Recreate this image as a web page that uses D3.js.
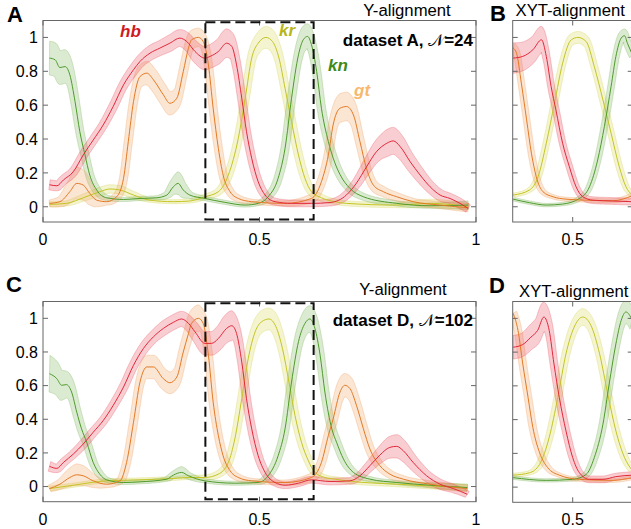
<!DOCTYPE html>
<html><head><meta charset="utf-8">
<script src="https://cdn.jsdelivr.net/npm/d3@7"></script>
<style>body{margin:0;background:#fff;} svg{display:block;} text{font-family:"Liberation Sans",Arial,sans-serif;}</style>
</head><body>
<svg id="chart" width="631" height="529"></svg>
<script>
// ---------- data: [x, mean, vertical half-width of error band] ----------
const A_hb = [[0.015,0.13,0.03],[0.032,0.124,0.03],[0.047,0.158,0.03],[0.07,0.207,0.03],[0.093,0.306,0.03],[0.116,0.394,0.03],[0.139,0.483,0.03],[0.162,0.592,0.035],[0.186,0.72,0.035],[0.209,0.809,0.04],[0.224,0.858,0.04],[0.247,0.907,0.045],[0.27,0.937,0.045],[0.293,0.966,0.05],[0.316,0.996,0.05],[0.332,0.976,0.055],[0.351,0.917,0.065],[0.374,0.878,0.07],[0.386,0.888,0.07],[0.405,0.917,0.075],[0.424,0.966,0.085],[0.436,0.947,0.08],[0.447,0.838,0.06],[0.459,0.641,0.04],[0.47,0.444,0.035],[0.482,0.286,0.03],[0.497,0.148,0.03],[0.513,0.069,0.025],[0.536,0.03,0.02],[0.574,0.02,0.02],[0.62,0.02,0.02],[0.663,0.025,0.02],[0.701,0.07,0.025],[0.724,0.14,0.035],[0.747,0.235,0.05],[0.77,0.325,0.065],[0.794,0.375,0.08],[0.809,0.389,0.08],[0.825,0.355,0.075],[0.848,0.266,0.06],[0.871,0.187,0.05],[0.894,0.118,0.04],[0.917,0.069,0.035],[0.94,0.049,0.03],[0.963,0.02,0.03],[0.982,-0.01,0.025]];
const A_gt = [[0.015,0.02,0.02],[0.039,0.03,0.03],[0.062,0.089,0.07],[0.078,0.138,0.095],[0.093,0.128,0.09],[0.108,0.079,0.07],[0.124,0.039,0.04],[0.147,0.03,0.02],[0.17,0.059,0.025],[0.186,0.168,0.03],[0.197,0.385,0.04],[0.209,0.621,0.05],[0.224,0.769,0.065],[0.24,0.789,0.07],[0.255,0.75,0.07],[0.278,0.661,0.07],[0.293,0.611,0.07],[0.309,0.641,0.065],[0.324,0.799,0.06],[0.336,0.937,0.055],[0.343,0.986,0.055],[0.359,1.0,0.055],[0.37,0.976,0.05],[0.382,0.838,0.04],[0.393,0.582,0.035],[0.405,0.345,0.03],[0.416,0.187,0.03],[0.432,0.089,0.025],[0.451,0.049,0.02],[0.482,0.03,0.015],[0.559,0.02,0.015],[0.62,0.049,0.025],[0.643,0.148,0.04],[0.659,0.306,0.055],[0.67,0.483,0.07],[0.686,0.582,0.085],[0.701,0.592,0.085],[0.717,0.542,0.08],[0.732,0.385,0.06],[0.747,0.227,0.045],[0.763,0.128,0.035],[0.786,0.089,0.03],[0.817,0.059,0.025],[0.855,0.03,0.02],[0.917,0.01,0.02],[0.982,-0.006,0.025]];
const A_kn = [[0.015,0.878,0.1],[0.028,0.868,0.1],[0.039,0.822,0.1],[0.051,0.828,0.1],[0.062,0.779,0.09],[0.074,0.621,0.06],[0.085,0.444,0.04],[0.097,0.306,0.035],[0.108,0.187,0.03],[0.124,0.099,0.025],[0.147,0.053,0.015],[0.186,0.043,0.012],[0.224,0.049,0.012],[0.262,0.053,0.012],[0.286,0.069,0.02],[0.301,0.118,0.05],[0.312,0.138,0.07],[0.324,0.099,0.05],[0.339,0.069,0.02],[0.374,0.049,0.012],[0.42,0.026,0.012],[0.467,0.01,0.012],[0.497,0.02,0.012],[0.52,0.059,0.02],[0.543,0.168,0.03],[0.559,0.345,0.04],[0.574,0.641,0.05],[0.59,0.897,0.065],[0.601,0.986,0.075],[0.611,1.006,0.075],[0.62,0.957,0.07],[0.632,0.799,0.06],[0.643,0.582,0.05],[0.659,0.385,0.04],[0.674,0.26,0.035],[0.686,0.19,0.03],[0.709,0.108,0.025],[0.74,0.059,0.02],[0.817,0.02,0.015],[0.894,0.006,0.015],[0.982,0.01,0.025]];
const A_kr = [[0.015,0.014,0.015],[0.054,0.02,0.015],[0.093,0.053,0.02],[0.131,0.089,0.025],[0.155,0.105,0.025],[0.178,0.099,0.025],[0.209,0.069,0.02],[0.247,0.039,0.012],[0.301,0.03,0.012],[0.339,0.034,0.012],[0.374,0.059,0.015],[0.405,0.089,0.02],[0.428,0.187,0.03],[0.451,0.404,0.035],[0.467,0.641,0.045],[0.482,0.878,0.055],[0.497,0.966,0.06],[0.515,1.0,0.065],[0.53,0.976,0.065],[0.545,0.878,0.06],[0.559,0.7,0.05],[0.574,0.503,0.045],[0.59,0.306,0.04],[0.605,0.168,0.03],[0.62,0.089,0.025],[0.643,0.053,0.02],[0.674,0.03,0.015],[0.701,0.02,0.015],[0.817,0.01,0.015],[0.894,0.02,0.025],[0.982,0.0,0.02]];

const C_hb = [[0.015,0.12,0.03],[0.032,0.108,0.025],[0.047,0.143,0.025],[0.07,0.193,0.025],[0.093,0.253,0.03],[0.116,0.323,0.03],[0.139,0.392,0.03],[0.162,0.482,0.03],[0.186,0.592,0.035],[0.209,0.721,0.035],[0.232,0.821,0.04],[0.255,0.89,0.04],[0.278,0.94,0.045],[0.301,0.976,0.045],[0.32,0.996,0.045],[0.336,0.97,0.05],[0.351,0.92,0.06],[0.374,0.851,0.07],[0.389,0.851,0.07],[0.405,0.88,0.075],[0.424,0.94,0.085],[0.436,0.956,0.09],[0.447,0.91,0.07],[0.459,0.741,0.045],[0.47,0.522,0.035],[0.482,0.343,0.03],[0.497,0.183,0.03],[0.513,0.084,0.025],[0.536,0.024,0.02],[0.559,0.008,0.02],[0.59,0.02,0.02],[0.62,0.04,0.02],[0.663,0.03,0.02],[0.709,0.034,0.02],[0.732,0.064,0.025],[0.755,0.124,0.035],[0.778,0.187,0.05],[0.801,0.233,0.065],[0.817,0.239,0.07],[0.832,0.213,0.065],[0.855,0.143,0.05],[0.886,0.064,0.035],[0.917,0.014,0.03],[0.948,-0.012,0.025],[0.98,-0.046,0.02]];
const C_gt = [[0.015,-0.012,0.02],[0.039,0.014,0.03],[0.062,0.054,0.055],[0.078,0.07,0.065],[0.093,0.064,0.06],[0.116,0.034,0.04],[0.147,0.014,0.02],[0.178,0.034,0.02],[0.193,0.143,0.03],[0.209,0.382,0.04],[0.224,0.621,0.055],[0.24,0.711,0.07],[0.255,0.711,0.07],[0.278,0.641,0.065],[0.293,0.617,0.065],[0.309,0.651,0.065],[0.324,0.8,0.065],[0.336,0.91,0.07],[0.343,0.97,0.075],[0.359,1.0,0.08],[0.37,0.97,0.065],[0.382,0.781,0.045],[0.393,0.502,0.035],[0.405,0.303,0.03],[0.416,0.183,0.03],[0.432,0.094,0.025],[0.451,0.054,0.02],[0.482,0.034,0.015],[0.559,0.024,0.015],[0.62,0.054,0.025],[0.643,0.143,0.035],[0.659,0.303,0.05],[0.67,0.402,0.06],[0.686,0.562,0.07],[0.697,0.602,0.07],[0.709,0.582,0.07],[0.724,0.482,0.06],[0.74,0.343,0.05],[0.755,0.223,0.04],[0.778,0.124,0.03],[0.801,0.074,0.025],[0.832,0.044,0.02],[0.894,0.014,0.02],[0.98,-0.012,0.02]];
const C_kn = [[0.015,0.671,0.11],[0.032,0.641,0.1],[0.043,0.602,0.09],[0.054,0.606,0.08],[0.066,0.562,0.07],[0.078,0.442,0.05],[0.089,0.343,0.04],[0.101,0.263,0.035],[0.116,0.143,0.025],[0.131,0.074,0.02],[0.147,0.04,0.015],[0.186,0.024,0.012],[0.224,0.028,0.012],[0.286,0.044,0.012],[0.301,0.068,0.02],[0.32,0.084,0.035],[0.336,0.064,0.02],[0.374,0.034,0.012],[0.443,0.02,0.012],[0.497,0.024,0.012],[0.52,0.064,0.02],[0.543,0.183,0.03],[0.559,0.343,0.04],[0.574,0.621,0.05],[0.59,0.861,0.065],[0.605,0.97,0.075],[0.616,0.996,0.08],[0.628,0.94,0.075],[0.64,0.781,0.06],[0.651,0.562,0.05],[0.667,0.343,0.04],[0.678,0.263,0.035],[0.694,0.163,0.03],[0.717,0.084,0.02],[0.755,0.044,0.015],[0.817,0.024,0.012],[0.894,0.008,0.015],[0.98,-0.006,0.02]];
const C_kr = [[0.015,-0.012,0.015],[0.07,0.008,0.012],[0.147,0.034,0.012],[0.224,0.04,0.012],[0.301,0.048,0.012],[0.339,0.054,0.012],[0.374,0.054,0.015],[0.405,0.074,0.02],[0.428,0.143,0.025],[0.443,0.283,0.03],[0.459,0.522,0.04],[0.474,0.761,0.05],[0.49,0.92,0.06],[0.505,0.98,0.065],[0.522,0.996,0.065],[0.538,0.95,0.065],[0.553,0.821,0.055],[0.568,0.621,0.045],[0.582,0.422,0.04],[0.597,0.263,0.03],[0.613,0.153,0.025],[0.628,0.084,0.02],[0.651,0.054,0.015],[0.674,0.044,0.015],[0.701,0.034,0.015],[0.817,0.014,0.015],[0.98,-0.006,0.02]];

const B_hb = [[0.376,0.878,0.09],[0.396,0.888,0.085],[0.417,0.927,0.08],[0.435,0.986,0.08],[0.445,0.888,0.06],[0.455,0.711,0.035],[0.465,0.572,0.025],[0.479,0.375,0.02],[0.493,0.237,0.02],[0.507,0.118,0.02],[0.521,0.059,0.02],[0.542,0.039,0.02],[0.583,0.034,0.02],[0.624,0.03,0.02]];
const B_gt = [[0.376,0.937,0.03],[0.383,0.907,0.03],[0.393,0.73,0.02],[0.404,0.513,0.02],[0.414,0.316,0.02],[0.424,0.178,0.02],[0.438,0.089,0.015],[0.459,0.059,0.012],[0.486,0.045,0.012],[0.528,0.039,0.012],[0.583,0.035,0.012],[0.624,0.065,0.015]];
const B_kr = [[0.376,0.069,0.012],[0.41,0.099,0.012],[0.428,0.178,0.015],[0.445,0.375,0.02],[0.462,0.611,0.025],[0.479,0.848,0.03],[0.497,0.986,0.035],[0.511,1.0,0.035],[0.528,0.976,0.035],[0.545,0.828,0.03],[0.563,0.631,0.025],[0.58,0.434,0.02],[0.597,0.237,0.02],[0.611,0.118,0.015],[0.624,0.07,0.012]];
const B_kn = [[0.376,0.045,0.01],[0.41,0.024,0.01],[0.445,0.01,0.01],[0.479,0.016,0.01],[0.514,0.049,0.012],[0.535,0.118,0.015],[0.552,0.276,0.02],[0.566,0.474,0.025],[0.58,0.711,0.03],[0.59,0.888,0.035],[0.601,0.996,0.04],[0.608,1.01,0.04],[0.614,0.966,0.04],[0.624,0.9,0.035]];

const D_hb = [[0.376,0.829,0.07],[0.396,0.845,0.07],[0.413,0.889,0.075],[0.427,0.929,0.08],[0.44,1.008,0.09],[0.451,0.929,0.07],[0.461,0.73,0.04],[0.472,0.532,0.03],[0.486,0.333,0.025],[0.5,0.175,0.02],[0.514,0.085,0.02],[0.535,0.046,0.02],[0.563,0.046,0.02],[0.59,0.062,0.02],[0.624,0.071,0.02]];
const D_gt = [[0.376,1.03,0.03],[0.386,0.929,0.03],[0.396,0.73,0.025],[0.407,0.532,0.02],[0.417,0.353,0.02],[0.431,0.204,0.02],[0.448,0.115,0.015],[0.472,0.071,0.012],[0.514,0.046,0.012],[0.583,0.04,0.012],[0.624,0.056,0.012]];
const D_kr = [[0.376,0.071,0.012],[0.41,0.085,0.012],[0.431,0.135,0.015],[0.451,0.294,0.02],[0.469,0.532,0.03],[0.486,0.79,0.04],[0.503,0.948,0.045],[0.521,1.008,0.05],[0.538,0.958,0.045],[0.556,0.79,0.04],[0.573,0.552,0.03],[0.59,0.333,0.025],[0.608,0.175,0.02],[0.624,0.1,0.015]];
const D_kn = [[0.376,0.056,0.01],[0.445,0.04,0.01],[0.5,0.046,0.01],[0.528,0.075,0.015],[0.545,0.175,0.02],[0.563,0.373,0.03],[0.576,0.611,0.04],[0.59,0.849,0.055],[0.601,0.988,0.065],[0.611,1.038,0.07],[0.624,0.99,0.065]];

// horizontal half-width of the error bands (x units), per panel
const A_hw = 0.0095, B_hw = 0.007, C_hw = 0.0095, D_hw = 0.008;

const yTicks = [0, 0.2, 0.4, 0.6, 0.8, 1];
const yTickLabels = ["0", "0.2", "0.4", "0.6", "0.8", "1"];
const xTicksFull = [0, 0.5, 1];
const xTickLabelsFull = ["0", "0.5", "1"];
const xTicksZoom = [0.5];
const xTickLabelsZoom = ["0.5"];
const genes = ["kr", "kn", "gt", "hb"];
const zoomWindow = [0.375, 0.625];

// ---------- styles ----------
const lineColor = {hb: "#e2283a", gt: "#e27a26", kr: "#c4c426", kn: "#4f9a2c"};
const bandColor = {hb: "#e8505c", gt: "#f0a262", kr: "#d6d656", kn: "#7eb65c"};
const labelColor = {hb: "#d01a22", kr: "#b6b61c", kn: "#3d8a18", gt: "#f7b86c"};

const svg = d3.select("#chart");
const yDomain = [-0.09, 1.1];

function tubePath(data, hw, xs, ys) {
  const line = d3.line().x(d => xs(d[0])).y(d => ys(d[1])).curve(d3.curveMonotoneX);
  const tmp = svg.append("path").attr("d", line(data)).attr("fill", "none");
  const node = tmp.node();
  const L = node.getTotalLength();
  const pts = [];
  for (let s = 0; s <= L; s += 1) { const p = node.getPointAtLength(s); pts.push([p.x, p.y]); }
  const pe = node.getPointAtLength(L); pts.push([pe.x, pe.y]);
  tmp.remove();
  const eScale = d3.scaleLinear().domain(data.map(d => d[0])).range(data.map(d => d[2])).clamp(true);
  const ky = Math.abs(ys(1) - ys(0));
  const a = Math.abs(xs(hw) - xs(0));
  const up = [], lo = [];
  for (let i = 0; i < pts.length; i++) {
    const p0 = pts[Math.max(0, i - 2)], p1 = pts[Math.min(pts.length - 1, i + 2)];
    let tx = p1[0] - p0[0], ty = p1[1] - p0[1];
    const len = Math.hypot(tx, ty) || 1; tx /= len; ty /= len;
    const nx = ty, ny = -tx;           // normal pointing upward
    const b = eScale(xs.invert(pts[i][0])) * ky;
    const den = Math.sqrt(a * a * nx * nx + b * b * ny * ny) || 1;
    const sx = a * a * nx / den, sy = b * b * ny / den;
    up.push([pts[i][0] + sx, pts[i][1] + sy]);
    lo.push([pts[i][0] - sx, pts[i][1] - sy]);
  }
  return d3.line()(up.concat(lo.reverse())) + "Z";
}

function panel(opts) {
  const {id, x0, x1, y0, y1, xDom, series, hw, xt, xtl, showYLabels} = opts;
  const xs = d3.scaleLinear().domain(xDom).range([x0, x1]);
  const ys = d3.scaleLinear().domain(yDomain).range([y1, y0]);
  const g = svg.append("g");
  svg.append("clipPath").attr("id", "clip" + id).append("rect")
    .attr("x", x0).attr("y", y0).attr("width", x1 - x0).attr("height", y1 - y0);
  const cg = g.append("g").attr("clip-path", `url(#clip${id})`);
  genes.forEach(gn => {
    cg.append("path").attr("d", tubePath(series[gn], hw, xs, ys))
      .attr("fill", bandColor[gn]).attr("fill-opacity", 0.28)
      .attr("stroke", bandColor[gn]).attr("stroke-opacity", 0.45).attr("stroke-width", 0.7);
  });
  genes.forEach(gn => {
    cg.append("path").datum(series[gn])
      .attr("d", d3.line().x(d => xs(d[0])).y(d => ys(d[1])).curve(d3.curveMonotoneX))
      .attr("fill", "none").attr("stroke", lineColor[gn]).attr("stroke-width", 1);
  });
  const ax = g.append("g").attr("stroke", "#666").attr("stroke-width", 1).attr("fill", "none");
  ax.append("rect").attr("x", x0).attr("y", y0).attr("width", x1 - x0).attr("height", y1 - y0);
  yTicks.forEach(t => {
    ax.append("line").attr("x1", x0).attr("x2", x0 + 5).attr("y1", ys(t)).attr("y2", ys(t));
    ax.append("line").attr("x1", x1).attr("x2", x1 - 5).attr("y1", ys(t)).attr("y2", ys(t));
  });
  xt.forEach(t => {
    ax.append("line").attr("x1", xs(t)).attr("x2", xs(t)).attr("y1", y1).attr("y2", y1 - 5);
    ax.append("line").attr("x1", xs(t)).attr("x2", xs(t)).attr("y1", y0).attr("y2", y0 + 5);
  });
  if (showYLabels) {
    yTicks.forEach((t, i) => {
      g.append("text").attr("x", x0 - 5).attr("y", ys(t)).attr("dy", "0.36em")
        .attr("text-anchor", "end").attr("font-size", 16).text(yTickLabels[i]);
    });
  }
  xt.forEach((t, i) => {
    g.append("text").attr("x", xs(t)).attr("y", y1 + 23).attr("text-anchor", "middle")
      .attr("font-size", 16).text(xtl[i]);
  });
  return {xs, ys, g};
}

const pA = panel({id: "A", x0: 43, x1: 476, y0: 20.5, y1: 222, xDom: [0, 1], hw: A_hw,
  series: {hb: A_hb, gt: A_gt, kr: A_kr, kn: A_kn}, xt: xTicksFull, xtl: xTickLabelsFull, showYLabels: true});
const pB = panel({id: "B", x0: 512.7, x1: 632.7, y0: 20.5, y1: 222, xDom: zoomWindow, hw: B_hw,
  series: {hb: B_hb, gt: B_gt, kr: B_kr, kn: B_kn}, xt: xTicksZoom, xtl: xTickLabelsZoom, showYLabels: false});
const pC = panel({id: "C", x0: 43, x1: 476, y0: 301.5, y1: 501.7, xDom: [0, 1], hw: C_hw,
  series: {hb: C_hb, gt: C_gt, kr: C_kr, kn: C_kn}, xt: xTicksFull, xtl: xTickLabelsFull, showYLabels: true});
const pD = panel({id: "D", x0: 512.7, x1: 632.7, y0: 301.5, y1: 502.3, xDom: zoomWindow, hw: D_hw,
  series: {hb: D_hb, gt: D_gt, kr: D_kr, kn: D_kn}, xt: xTicksZoom, xtl: xTickLabelsZoom, showYLabels: false});

[pA, pC].forEach(p => {
  p.g.append("rect")
    .attr("x", p.xs(zoomWindow[0])).attr("y", p.ys(1.09))
    .attr("width", p.xs(zoomWindow[1]) - p.xs(zoomWindow[0]))
    .attr("height", p.ys(-0.075) - p.ys(1.09))
    .attr("fill", "none").attr("stroke", "#111").attr("stroke-width", 2).attr("stroke-dasharray", "10,5");
});

function txt(x, y, s, size, weight, anchor, fill, style) {
  return svg.append("text").attr("x", x).attr("y", y).attr("font-size", size)
    .attr("font-weight", weight || "normal").attr("text-anchor", anchor || "start")
    .attr("fill", fill || "#000").attr("font-style", style || "normal").text(s);
}
txt(7, 22, "A", 22, "bold");
txt(490, 21, "B", 22, "bold");
txt(6, 292, "C", 22, "bold");
txt(489, 293, "D", 22, "bold");
txt(407, 16, "Y-alignment", 16.7, "normal", "middle");
txt(403, 295, "Y-alignment", 16.7, "normal", "middle");
txt(515.5, 16, "XYT-alignment", 16.7, "normal", "start");
txt(519, 297, "XYT-alignment", 16.7, "normal", "start");

function dataset(y, name, n) {
  const t = svg.append("text").attr("x", 473).attr("y", y).attr("font-size", 17)
    .attr("font-weight", "bold").attr("text-anchor", "end");
  t.append("tspan").text(`dataset ${name}, `);
  t.append("tspan").attr("font-weight", "normal").attr("font-family", "DejaVu Serif").text("𝒩");
  t.append("tspan").text("=" + n);
}
dataset(46, "A", 24);
dataset(326, "D", 102);

txt(120, 37, "hb", 17, "bold", "start", labelColor.hb, "italic");
txt(279, 36, "kr", 17, "bold", "start", labelColor.kr, "italic");
txt(328, 71, "kn", 17, "bold", "start", labelColor.kn, "italic");
txt(354, 96, "gt", 17, "bold", "start", labelColor.gt, "italic");
</script>
</body></html>
